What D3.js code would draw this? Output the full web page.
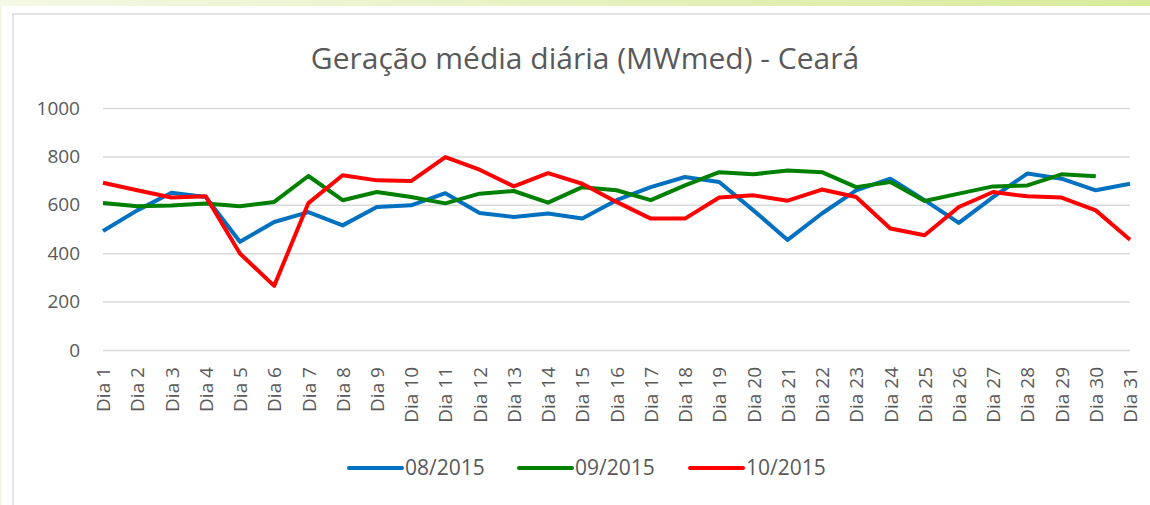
<!DOCTYPE html>
<html>
<head>
<meta charset="utf-8">
<script src="https://cdn.jsdelivr.net/npm/d3@7"></script>
<style>
  body { margin: 0; background: #fff; }
  text { font-family: "Open Sans", "Liberation Sans", sans-serif; fill: #595959; }
</style>
</head>
<body>
<svg id="chart" width="1150" height="505"></svg>
<script>
// data (MWmed)
const days = d3.range(1, 32).map(d => "Dia " + d);
const ago2015 = [492, 577, 650, 632, 447, 529, 570, 515, 591, 598, 648, 566, 550, 564, 543, 619, 673, 715, 694, 577, 455, 564, 660, 708, 619, 525, 632, 729, 708, 660, 687];
const set2015 = [607, 594, 597, 605, 594, 612, 719, 619, 653, 632, 606, 646, 657, 609, 673, 660, 619, 680, 735, 726, 742, 735, 673, 694, 616, 646, 676, 680, 726, 718];
const out2015 = [691, 660, 630, 635, 399, 265, 607, 722, 701, 698, 797, 745, 676, 731, 687, 612, 543, 543, 630, 639, 617, 663, 632, 502, 474, 591, 653, 635, 630, 577, 456];
const yTicks = [0, 200, 400, 600, 800, 1000];
const seriesNames = ["08/2015", "09/2015", "10/2015"];
const seriesColors = ["#0070c0", "#008000", "#ff0000"];
const seriesData = [ago2015, set2015, out2015];

const svg = d3.select("svg#chart");

// top green band + frame
const grad = svg.append("defs").append("linearGradient").attr("id", "band");
grad.append("stop").attr("offset", "0%").attr("stop-color", "#f4f8e6");
grad.append("stop").attr("offset", "100%").attr("stop-color", "#d8eb9a");
svg.append("rect").attr("x", 0).attr("y", 0).attr("width", 1150).attr("height", 6).attr("fill", "url(#band)");
svg.append("rect").attr("x", 0).attr("y", 0).attr("width", 1.5).attr("height", 505).attr("fill", "#f1f6e2");
svg.append("rect").attr("x", 13).attr("y", 14).attr("width", 1160).attr("height", 520)
    .attr("fill", "white").attr("stroke", "#d9d9d9").attr("stroke-width", 1.5);

// scales
const xScale = d3.scalePoint().domain(days).range([103, 1130]);
const yScale = d3.scaleLinear().domain([0, 1000]).range([350, 108]);

// gridlines
let grid = d3.axisLeft(yScale).tickValues(yTicks).tickSize(-(1130 - 103)).tickFormat("");
svg.append("g").attr("transform", "translate(103,0)").call(grid)
    .call(g => g.select(".domain").remove())
    .selectAll("line").attr("stroke", "#d9d9d9").attr("stroke-width", 1.5);

// y labels
let leftAxis = d3.axisLeft(yScale).tickValues(yTicks).tickSize(0).tickPadding(23).tickFormat(d3.format("d"));
svg.append("g").attr("transform", "translate(103,0)").call(leftAxis)
    .call(g => g.select(".domain").remove())
    .selectAll("text").attr("font-size", 19).attr("font-family", null);

// x labels, rotated
let bottomAxis = d3.axisBottom(xScale).tickSize(0);
svg.append("g").attr("transform", "translate(0,350)").call(bottomAxis)
    .call(g => g.select(".domain").remove())
    .selectAll("text")
    .attr("font-size", 19).attr("font-family", null)
    .attr("text-anchor", "end")
    .attr("transform", "rotate(-90)")
    .attr("x", -17).attr("y", 0).attr("dy", "0.35em");

// lines
const line = d3.line().x((d, i) => xScale(days[i])).y(d => yScale(d));
seriesData.forEach((s, k) => {
    svg.append("path").datum(s)
        .attr("d", line)
        .attr("fill", "none")
        .attr("stroke", seriesColors[k])
        .attr("stroke-width", 4)
        .attr("stroke-linejoin", "round");
});

// title
svg.append("text").attr("x", 585).attr("y", 69).attr("text-anchor", "middle")
    .attr("font-size", 30).text("Geração média diária (MWmed) - Ceará");

// legend
const legX = [349, 519, 690];
seriesNames.forEach((n, k) => {
    svg.append("line").attr("x1", legX[k]).attr("x2", legX[k] + 53)
        .attr("y1", 468).attr("y2", 468)
        .attr("stroke", seriesColors[k]).attr("stroke-width", 4).attr("stroke-linecap", "round");
    svg.append("text").attr("x", legX[k] + 56).attr("y", 468).attr("dy", "0.35em")
        .attr("font-size", 21).text(n);
});
</script>
</body>
</html>
